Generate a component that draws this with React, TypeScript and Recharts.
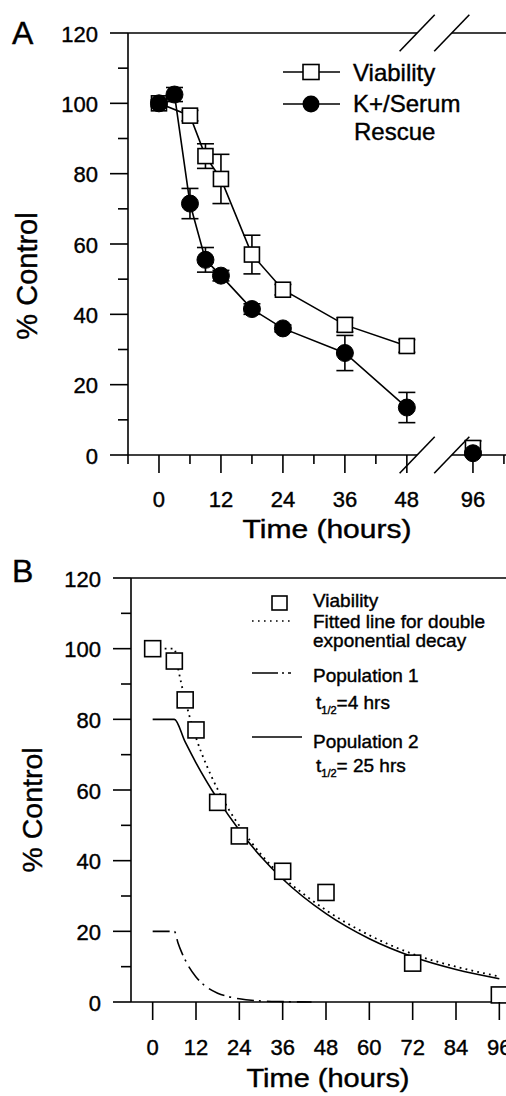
import React from 'react';
import { ComposedChart, Line, XAxis, YAxis, ErrorBar, ReferenceLine } from 'recharts';

const FONT = '"Liberation Sans", Arial, Helvetica, sans-serif';
const INK = '#000';
const SW = 1.6;

// ---- Panel A: viability vs K+/serum rescue (mean, error) ----
const A_VIAB_HOURS = [0, 6, 9, 12, 18, 24, 36, 48, 96];
const A_VIAB = [100, 96.5, 85, 78.5, 57, 47, 37, 31, 2];
const A_VIAB_ERR = [1, 1.5, 3.5, 7, 5.5, 1.5, 2, 1.8, 2];

const A_RESCUE_HOURS = [0, 3, 6, 9, 12, 18, 24, 36, 48, 96];
const A_RESCUE = [100, 102.5, 71.5, 55.5, 51, 41.5, 36, 29, 13.5, 0.5];
const A_RESCUE_ERR = [0.5, 2, 4.3, 3.5, 1.5, 1.5, 1, 5, 4.3, 0.5];

const A_X_TICKS = [-6, 0, 6, 12, 18, 24, 30, 36, 42, 48, 96, 102];

// ---- Panel B: viability + double exponential fit ----
const B_VIAB_HOURS = [0, 6, 9, 12, 18, 24, 36, 48, 72, 96];
const B_VIAB = [100, 96.5, 85.5, 77, 56.5, 47, 37, 31, 11, 2];

const B_FIT_HOURS = [0, 6, 7, 8, 9, 10, 12, 15, 18, 21, 24, 30, 36, 42, 48, 60, 72, 84, 96];
const B_FIT = [100, 100, 94.6, 89.8, 85.5, 81.6, 74.8, 66.8, 60.2, 54.6, 49.9, 41.8, 35.4, 30.4, 26.0, 18.9, 13.6, 10.0, 7.2];

const B_POP1_HOURS = [0, 6, 7, 8, 9, 10, 12, 15, 18, 21, 24, 30, 36, 44];
const B_POP1 = [20, 20, 16.8, 14.1, 11.9, 10, 7.1, 4.2, 2.5, 1.5, 0.9, 0.3, 0.1, 0];

const B_POP2_HOURS = [0, 6, 9, 12, 18, 24, 30, 36, 48, 60, 72, 84, 96];
const B_POP2 = [80, 80, 73.6, 67.7, 57.4, 48.6, 41.1, 34.8, 25.0, 17.9, 12.8, 9.2, 6.6];

const B_X_TICKS = [0, 12, 24, 36, 48, 60, 72, 84, 96];
const Y_TICKS = [0, 10, 20, 30, 40, 50, 60, 70, 80, 90, 100, 110, 120];

// broken time axis in panel A: everything after 48 h is pulled left
const SHIFT = 35.2;
const brk = (h: number) => (h > 48 ? h - SHIFT : h);
const unbrk = (p: number) => Math.round(p > 52 ? p + SHIFT : p);
const GAP_LO = 50;
const GAP_HI = 56.7;

const rowsA = (hours: number[], vals: number[], errs: number[]) =>
  hours.map((h, i) => ({ p: brk(h), v: vals[i], e: errs[i] }));
const rowsB = (hours: number[], vals: number[]) => hours.map((h, i) => ({ p: h, v: vals[i] }));

const viabA = rowsA(A_VIAB_HOURS, A_VIAB, A_VIAB_ERR);
const rescueA = rowsA(A_RESCUE_HOURS, A_RESCUE, A_RESCUE_ERR);

// scanned-print look: glyphs a touch heavier than the plain font
const txt = { fontFamily: FONT, fill: INK, stroke: INK, strokeWidth: 0.4 } as const;

const square = (size: number) => (props: any) => {
  const { cx, cy, index } = props;
  if (cx == null || cy == null) return <g key={`s${index}`} />;
  return (
    <rect key={`s${index}`} x={cx - size / 2} y={cy - size / 2} width={size} height={size}
      fill="#fff" stroke={INK} strokeWidth={SW} />
  );
};
const disc = (r: number) => (props: any) => {
  const { cx, cy, index } = props;
  if (cx == null || cy == null) return <g key={`c${index}`} />;
  return <circle key={`c${index}`} cx={cx} cy={cy} r={r} fill={INK} stroke={INK} strokeWidth={1} />;
};

function YTick({ x, y, payload }: any) {
  const major = payload.value % 20 === 0;
  return (
    <g>
      <line x1={x - (major ? 18 : 10)} x2={x} y1={y} y2={y} stroke={INK} strokeWidth={SW} />
      {major && (
        <text x={x - 30} y={y} dy={8.5} textAnchor="end" fontSize={22} {...txt}>
          {payload.value}
        </text>
      )}
    </g>
  );
}

function XTickA({ x, y, payload }: any) {
  const h = unbrk(payload.value);
  const major = h >= 0 && h % 12 === 0;
  return (
    <g>
      <line x1={x} x2={x} y1={y} y2={y + (major ? 18 : 9)} stroke={INK} strokeWidth={SW} />
      {major && (
        <text x={x} y={y + 52} textAnchor="middle" fontSize={22} {...txt}>{h}</text>
      )}
    </g>
  );
}

function XTickB({ x, y, payload }: any) {
  return (
    <g>
      <line x1={x} x2={x} y1={y} y2={y + 18} stroke={INK} strokeWidth={SW} />
      <text x={x} y={y + 53} textAnchor="middle" fontSize={22} {...txt}>{payload.value}</text>
    </g>
  );
}

const seg = (x1: number, y1: number, x2: number, y2: number) => [{ x: x1, y: y1 }, { x: x2, y: y2 }];

function PanelA() {
  const lines = [
    seg(-6, 0, GAP_LO, 0), seg(GAP_HI, 0, 67.2, 0),
    seg(-6, 120, GAP_LO, 120), seg(GAP_HI, 120, 67.2, 120),
    seg(GAP_LO - 3.4, -5.2, GAP_LO + 3.4, 5.2), seg(GAP_HI - 3.4, -5.2, GAP_HI + 3.4, 5.2),
    seg(GAP_LO - 3.4, 114.8, GAP_LO + 3.4, 125.2), seg(GAP_HI - 3.4, 114.8, GAP_HI + 3.4, 125.2),
  ];
  return (
    <ComposedChart width={506} height={560} margin={{ top: 33, right: 0, bottom: 45, left: 100 }}>
      <XAxis type="number" dataKey="p" domain={[-6, 67.2]} ticks={A_X_TICKS.map(brk)} interval={0}
        allowDataOverflow axisLine={false} tickLine={false} tickSize={0} tickMargin={0} height={60}
        tick={<XTickA />} />
      <YAxis type="number" domain={[0, 120]} ticks={Y_TICKS} interval={0} width={28}
        axisLine={{ stroke: INK, strokeWidth: SW }} tickLine={false} tickSize={0} tickMargin={0}
        tick={<YTick />} />
      {lines.map((s, i) => (
        <ReferenceLine key={i} segment={s} stroke={INK} strokeWidth={SW} ifOverflow="visible" />
      ))}
      <Line data={viabA.filter(r => r.p <= 48)} dataKey="v" stroke={INK} strokeWidth={SW}
        dot={square(15)} activeDot={false} isAnimationActive={false}>
        <ErrorBar dataKey="e" width={8.5} stroke={INK} strokeWidth={SW} isAnimationActive={false} />
      </Line>
      <Line data={viabA.filter(r => r.p > 48)} dataKey="v" stroke="none"
        dot={square(15)} activeDot={false} isAnimationActive={false}>
        <ErrorBar dataKey="e" width={8.5} stroke={INK} strokeWidth={SW} isAnimationActive={false} />
      </Line>
      <Line data={rescueA.filter(r => r.p <= 48)} dataKey="v" stroke={INK} strokeWidth={SW}
        dot={disc(8.5)} activeDot={false} isAnimationActive={false}>
        <ErrorBar dataKey="e" width={8.5} stroke={INK} strokeWidth={SW} isAnimationActive={false} />
      </Line>
      <Line data={rescueA.filter(r => r.p > 48)} dataKey="v" stroke="none"
        dot={disc(8.5)} activeDot={false} isAnimationActive={false}>
        <ErrorBar dataKey="e" width={8.5} stroke={INK} strokeWidth={SW} isAnimationActive={false} />
      </Line>
    </ComposedChart>
  );
}

function PanelB() {
  return (
    <ComposedChart width={521} height={536} margin={{ top: 18, right: 0, bottom: 34, left: 103 }}>
      <XAxis type="number" dataKey="p" domain={[-6, 102]} ticks={B_X_TICKS} interval={0}
        allowDataOverflow axisLine={{ stroke: INK, strokeWidth: SW }} tickLine={false}
        tickSize={0} tickMargin={0} height={60} tick={<XTickB />} />
      <YAxis type="number" domain={[0, 120]} ticks={Y_TICKS} interval={0} width={28}
        axisLine={{ stroke: INK, strokeWidth: SW }} tickLine={false} tickSize={0} tickMargin={0}
        tick={<YTick />} />
      <ReferenceLine y={120} stroke={INK} strokeWidth={SW} ifOverflow="visible" />
      <Line data={rowsB(B_POP1_HOURS, B_POP1)} dataKey="v" type="monotone" stroke={INK} strokeWidth={SW}
        strokeDasharray="17 5 2 6" dot={false} activeDot={false} isAnimationActive={false} />
      <Line data={rowsB(B_POP2_HOURS, B_POP2)} dataKey="v" type="monotone" stroke={INK} strokeWidth={SW}
        dot={false} activeDot={false} isAnimationActive={false} />
      <Line data={rowsB(B_VIAB_HOURS, B_VIAB)} dataKey="v" stroke="none"
        dot={square(16)} activeDot={false} isAnimationActive={false} />
      <Line data={rowsB(B_FIT_HOURS, B_FIT)} dataKey="v" type="monotone" stroke={INK} strokeWidth={1.8}
        strokeDasharray="1.8 4.2" dot={false} activeDot={false} isAnimationActive={false} />
    </ComposedChart>
  );
}

function Sub({ x, y, rest }: { x: number; y: number; rest: string }) {
  return (
    <text x={x} y={y} fontSize={19} {...txt}>
      t<tspan fontSize={11} dy={5}>1/2</tspan><tspan dy={-5}>{rest}</tspan>
    </text>
  );
}

function Overlay() {
  return (
    <svg width={506} height={1096} style={{ position: 'absolute', left: 0, top: 0, pointerEvents: 'none' }}>
      {/* panel letters */}
      <text x={12} y={44} fontSize={32} {...txt}>A</text>
      <text x={12} y={582} fontSize={32} {...txt}>B</text>

      {/* axis titles */}
      <text x={327} y={538} fontSize={25} textAnchor="middle" textLength={169} lengthAdjust="spacingAndGlyphs" {...txt}>Time (hours)</text>
      <text x={328} y={1087} fontSize={25} textAnchor="middle" textLength={163} lengthAdjust="spacingAndGlyphs" {...txt}>Time (hours)</text>
      <text transform="translate(37 276) rotate(-90)" fontSize={29} textAnchor="middle" {...txt}>% Control</text>
      <text transform="translate(42 810) rotate(-90)" fontSize={28.5} textAnchor="middle" {...txt}>% Control</text>

      {/* legend A */}
      <line x1={283} x2={340} y1={72} y2={72} stroke={INK} strokeWidth={SW} />
      <rect x={303} y={64.5} width={16} height={15} fill="#fff" stroke={INK} strokeWidth={SW} />
      <text x={353} y={81} fontSize={24} {...txt}>Viability</text>
      <line x1={283} x2={340} y1={104} y2={104} stroke={INK} strokeWidth={SW} />
      <circle cx={311} cy={104} r={8.5} fill={INK} />
      <text x={353} y={112} fontSize={24} {...txt}>K+/Serum</text>
      <text x={354} y={140} fontSize={24} {...txt}>Rescue</text>

      {/* legend B */}
      <rect x={272} y={596} width={15} height={14} fill="#fff" stroke={INK} strokeWidth={SW} />
      <text x={313} y={607} fontSize={19} {...txt}>Viability</text>
      <line x1={252} x2={291} y1={621} y2={621} stroke={INK} strokeWidth={1.6} strokeDasharray="1.6 4.4" />
      <text x={313} y={628} fontSize={19} {...txt}>Fitted line for double</text>
      <text x={313} y={647} fontSize={19} {...txt}>exponential decay</text>
      <line x1={252} x2={291} y1={673} y2={673} stroke={INK} strokeWidth={SW} strokeDasharray="26 4 2 4" />
      <text x={313} y={682} fontSize={19} {...txt}>Population 1</text>
      <Sub x={316} y={709} rest="=4 hrs" />
      <line x1={252} x2={302} y1={737} y2={737} stroke={INK} strokeWidth={SW} />
      <text x={313} y={748} fontSize={19} {...txt}>Population 2</text>
      <Sub x={316} y={772} rest="= 25 hrs" />
    </svg>
  );
}

export default function App() {
  return (
    <div style={{ position: 'absolute', left: 0, top: 0, width: 506, height: 1096, overflow: 'hidden', background: '#fff' }}>
      <div style={{ position: 'absolute', left: 0, top: 0 }}>
        <PanelA />
      </div>
      <div style={{ position: 'absolute', left: 0, top: 560 }}>
        <PanelB />
      </div>
      <Overlay />
    </div>
  );
}
